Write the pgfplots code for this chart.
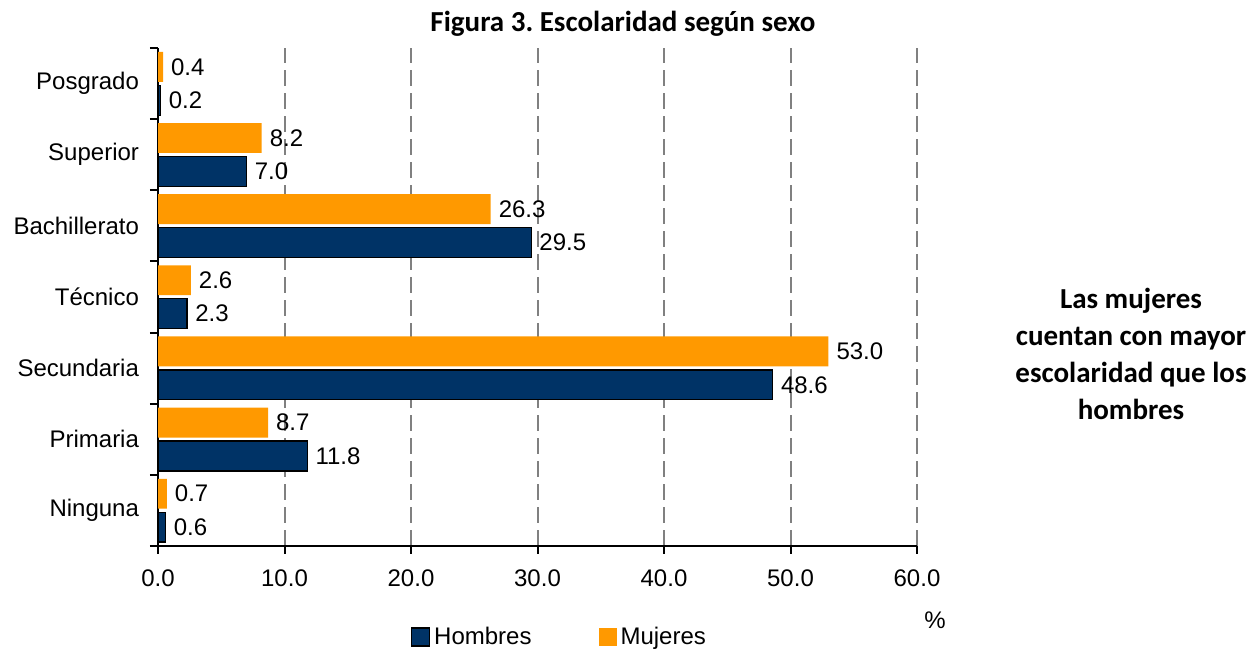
\documentclass[border=0pt]{standalone}
\usepackage{pgfplots}
\pgfplotsset{compat=1.18}
\usepackage{fontspec}
\setmainfont{Liberation Sans}
\newfontfamily\carlito{Carlito}
\definecolor{navy}{HTML}{003366}
\definecolor{orangeC}{HTML}{FF9900}
\definecolor{gridgray}{HTML}{808080}
\newcommand{\lbl}{\fontsize{12}{14}\selectfont}
\frenchspacing
\begin{document}
\begin{tikzpicture}
\useasboundingbox (0,0) rectangle (629pt,326pt);
\begin{axis}[
  at={(79pt,53pt)}, anchor=south west,
  scale only axis, width=379.5pt, height=249pt,
  xmin=0, xmax=60, ymin=-0.5, ymax=6.5,
  xbar, bar width=0.42,
  axis x line*=bottom, axis y line*=left,
  axis line style={black, line width=1pt},
  xtick={0,10,...,60},
  xticklabel style={font=\lbl, yshift=-4.5pt},
  /pgf/number format/assume math mode=true,
  xticklabel={\pgfmathprintnumber[fixed,fixed zerofill,precision=1]{\tick}},
  tick align=outside,
  major tick length=4pt,
  x tick style={black, line width=1pt},
  xmajorgrids,
  grid style={gridgray, line width=1pt, dash pattern=on 8pt off 3.5pt},
  ytick={0,...,6},
  yticklabels={Ninguna,Primaria,Secundaria,Técnico,Bachillerato,Superior,Posgrado},
  yticklabel style={font=\lbl, xshift=-2pt},
  y tick style={draw=none},
  extra y ticks={-0.5,0.5,1.5,2.5,3.5,4.5,5.5,6.5},
  extra y tick labels={},
  extra y tick style={tick align=outside, major tick length=4pt, y tick style={black, line width=1pt, draw=black}},
  nodes near coords,
  nodes near coords style={font=\lbl, anchor=west, xshift=0.5pt,
     /pgf/number format/.cd, fixed, fixed zerofill, precision=1},
  legend style={at={(0.53,-0.183)}, anchor=center, draw=none, fill=none,
     font=\lbl, legend columns=2,
     /tikz/every even column/.append style={column sep=31.5pt}},
  legend cell align=left,
]
\addplot[fill=navy, draw=black, line width=0.6pt, bar shift=-0.235,
  legend image code/.code={\draw[fill=navy, draw=black, line width=0.8pt] (0pt,-4.5pt) rectangle (9pt,4.5pt);}]
  coordinates {(0.6,0) (11.8,1) (48.6,2) (2.3,3) (29.5,4) (7.0,5) (0.2,6)};
\addlegendentry{Hombres}
\addplot[fill=orangeC, draw=none, bar shift=0.235,
  legend image code/.code={\fill[orangeC] (0pt,-4.5pt) rectangle (9pt,4.5pt);}]
  coordinates {(0.7,0) (8.7,1) (53.0,2) (2.6,3) (26.3,4) (8.2,5) (0.4,6)};
\addlegendentry{Mujeres}
\end{axis}
\node[font=\lbl] at (467.5pt,16pt) {\%};
\node[font={\carlito\bfseries\fontsize{14.5}{17}\selectfont}] at (311.5pt,314pt) {Figura 3. Escolaridad según sexo};
\node[font={\carlito\bfseries\fontsize{14.5}{18.5}\selectfont}, align=center] at (565.5pt,149pt)
  {Las mujeres\\cuentan con mayor\\escolaridad que los\\hombres};
\end{tikzpicture}
\end{document}
